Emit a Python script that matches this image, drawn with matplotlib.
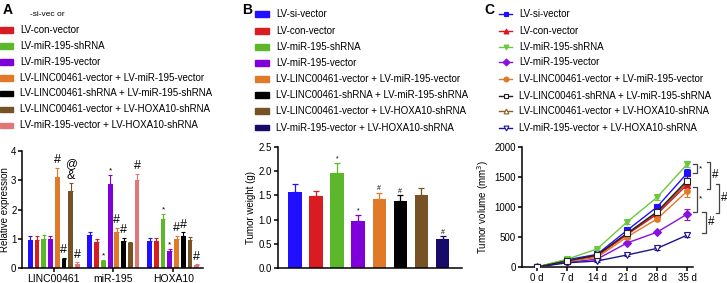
import numpy as np
import matplotlib
matplotlib.use("Agg")
import matplotlib.pyplot as plt
from matplotlib.patches import Rectangle
from matplotlib.lines import Line2D

plt.rcParams['font.family'] = ['Liberation Sans', 'DejaVu Sans']
plt.rcParams['font.size'] = 7

W, H = 727, 283

# ---- data ----
colors = ["#2010ff", "#d81c22", "#5cb82a", "#8000dc", "#e07a28", "#000000", "#765224", "#e07878"]
colors_b = colors[:7] + ["#160a6a"]

labels_a = ["-si-vec or", "LV-con-vector", "LV-miR-195-shRNA", "LV-miR-195-vector",
            "LV-LINC00461-vector + LV-miR-195-vector", "LV-LINC00461-shRNA + LV-miR-195-shRNA",
            "LV-LINC00461-vector + LV-HOXA10-shRNA", "LV-miR-195-vector + LV-HOXA10-shRNA"]
labels_b = ["LV-si-vector"] + labels_a[1:]

genes = ["LINC00461", "miR-195", "HOXA10"]
expr = [[0.97, 0.97, 1.00, 0.99, 3.10, 0.30, 2.62, 0.15],
        [1.13, 0.88, 0.23, 2.88, 1.22, 0.93, 0.84, 3.02],
        [0.91, 0.92, 1.68, 0.58, 1.00, 1.10, 0.97, 0.10]]
expr_err = [[0.11, 0.11, 0.13, 0.09, 0.33, 0.05, 0.27, 0.04],
            [0.11, 0.11, 0.05, 0.31, 0.15, 0.10, 0.06, 0.21],
            [0.11, 0.10, 0.16, 0.07, 0.11, 0.13, 0.08, 0.02]]
expr_marks = [["", "", "", "", "#", "#", "&", "#"],
              ["", "", "*", "*", "#", "#", "", "#"],
              ["", "", "*", "*", "#", "#", "", "#"]]

weight = [1.57, 1.48, 1.96, 0.97, 1.42, 1.38, 1.50, 0.60]
weight_err = [0.16, 0.12, 0.21, 0.12, 0.13, 0.12, 0.16, 0.06]
weight_marks = ["", "", "*", "*", "#", "#", "", "#"]

days = [0, 7, 14, 21, 28, 35]
day_labels = ["0 d", "7 d", "14 d", "21 d", "28 d", "35 d"]
volume = [[0, 120, 210, 610, 1000, 1560],
          [0, 100, 180, 540, 880, 1370],
          [0, 130, 300, 750, 1160, 1710],
          [0, 80, 130, 400, 580, 880],
          [0, 90, 160, 500, 800, 1260],
          [0, 100, 200, 560, 920, 1440],
          [0, 100, 190, 550, 900, 1410],
          [0, 70, 100, 200, 310, 530]]
volume_err = [[0, 10, 20, 30, 40, 80],
              [0, 10, 20, 30, 40, 60],
              [0, 10, 20, 30, 40, 40],
              [0, 10, 15, 20, 20, 90],
              [0, 10, 20, 30, 40, 90],
              [0, 10, 20, 30, 40, 50],
              [0, 10, 20, 30, 40, 50],
              [0, 5, 10, 15, 20, 30]]
markers_c = ["s", "^", "v", "D", "o", "s", "^", "v"]
filled_c = [True, True, True, True, True, False, False, False]
colors_c = ["#2010ff", "#e0141c", "#6cc83c", "#8a10e0", "#e07a28", "#222222", "#8a6020", "#1c1490"]


def fx(px):
    return px / W


def fy(py):
    return 1 - py / H


def add_axes(l, r, t, b):
    return fig.add_axes([fx(l), fy(b), fx(r) - fx(l), fy(t) - fy(b)])


def style(ax):
    for s in ["top", "right"]:
        ax.spines[s].set_visible(False)
    ax.spines["left"].set_linewidth(1.1)
    ax.spines["bottom"].set_linewidth(1.1)
    ax.tick_params(direction="out", length=3, width=1.1, pad=1.5)


fig = plt.figure(figsize=(W / 100, H / 100), dpi=100)

# ---- panel labels ----
for lab, x in [("A", 3), ("B", 242), ("C", 484)]:
    fig.text(fx(x), fy(10), lab, fontsize=10, fontweight="bold", va="center", ha="left")

# ---- legends ----
ys_a = [14, 30, 46, 62, 78, 93.5, 109.5, 125.5]
ys_b = [14, 31, 47, 63, 79.3, 95, 111, 127.7]
ys_c = [14, 30.7, 46.7, 62.3, 79.3, 95.7, 111, 127.7]
for i in range(8):
    if i == 0:
        fig.text(fx(30), fy(ys_a[i]), labels_a[i], fontsize=6, va="center")
    else:
        fig.patches.append(Rectangle((fx(0), fy(ys_a[i] + 2.8)), fx(12.5), 5.6 / H,
                                     transform=fig.transFigure, color=colors[i]))
        fig.text(fx(20), fy(ys_a[i]), labels_a[i], va="center")
    fig.patches.append(Rectangle((fx(255), fy(ys_b[i] + 2.8)), fx(13.5), 5.6 / H,
                                 transform=fig.transFigure, color=colors_b[i]))
    fig.text(fx(276), fy(ys_b[i]), labels_b[i], va="center")
    fig.lines.append(Line2D([fx(499), fx(512)], [fy(ys_c[i])] * 2, transform=fig.transFigure,
                            color=colors_c[i], lw=1))
    fig.lines.append(Line2D([fx(505.5)], [fy(ys_c[i])], transform=fig.transFigure,
                            marker=markers_c[i], ms=3.5, color=colors_c[i],
                            mfc=colors_c[i] if filled_c[i] else "white", mew=0.8))
    fig.text(fx(519), fy(ys_c[i]), labels_b[i], va="center")

# ---- panel A ----
axA = add_axes(22, 203, 151, 268)
style(axA)
step, bw = 0.113, 0.08
for g in range(3):
    for i in range(8):
        x = g + (i - 3.5) * step
        axA.bar(x, expr[g][i], width=bw, color=colors[i], edgecolor="none")
        axA.errorbar(x, expr[g][i], yerr=[[0], [expr_err[g][i]]], color=colors[i],
                     capsize=1.5, elinewidth=0.8, capthick=0.8, fmt="none")
        m = expr_marks[g][i]
        if m:
            top = expr[g][i] + expr_err[g][i]
            fs = 6 if m == "*" else 9
            off = 0.02 if m == "*" else 0.05
            axA.text(x, top + off, m, ha="center", va="bottom", fontsize=fs)
axA.text(0 + 2.5 * step, expr[0][6] + expr_err[0][6] + 0.47, "@", ha="center", va="bottom", fontsize=8.5)
axA.set_xlim(-0.533, 2.5)
axA.set_ylim(0, 4)
axA.set_yticks([0, 1, 2, 3, 4])
axA.set_xticks(range(3))
axA.set_xticklabels(genes, fontsize=7.5)
axA.tick_params(axis="y", labelsize=7, pad=1)
axA.set_ylabel("Relative expression", fontsize=7, labelpad=1)

# ---- panel B ----
axB = add_axes(278, 462, 147, 268)
style(axB)
xb = np.arange(8)
axB.bar(xb, weight, width=0.64, color=colors_b, edgecolor="none")
for i in range(8):
    axB.errorbar(xb[i], weight[i], yerr=[[0], [weight_err[i]]], color=colors_b[i],
                 capsize=2.5, elinewidth=0.9, capthick=0.9, fmt="none")
    if weight_marks[i]:
        axB.text(xb[i], weight[i] + weight_err[i] + 0.01, weight_marks[i], ha="center",
                 va="bottom", fontsize=5)
axB.set_xlim(-0.8, 7.92)
axB.set_ylim(0, 2.5)
axB.set_yticks([0, 0.5, 1.0, 1.5, 2.0, 2.5])
axB.set_yticklabels(["0.0", "0.5", "1.0", "1.5", "2.0", "2.5"])
axB.set_xticks([])
axB.set_ylabel("Tumor weight (g)", labelpad=2)

# ---- panel C ----
axC = add_axes(522, 693, 147, 267)
style(axC)
for i in range(8):
    axC.errorbar(days, volume[i], yerr=volume_err[i], color=colors_c[i], marker=markers_c[i],
                 ms=4, mfc=colors_c[i] if filled_c[i] else "white", mew=0.8, lw=1,
                 capsize=2, elinewidth=0.8, zorder=3 + i % 3)
axC.set_xlim(-3.5, 36.4)
axC.set_ylim(0, 2000)
axC.set_xticks(days)
axC.set_xticklabels(day_labels)
axC.set_yticks([0, 500, 1000, 1500, 2000])
axC.set_ylabel("Tumor volume (mm$^3$)", labelpad=2)

# significance brackets (x in data units beyond the axis)
brackets = [(37.3, 1710, 1560, "*"), (40.4, 1755, 1300, "#"), (37.3, 1338, 920, "*"),
            (42.5, 1380, 905, "#"), (39.4, 920, 565, "#")]
for x, y1, y2, lab in brackets:
    axC.plot([x - 0.8, x, x, x - 0.8], [y1, y1, y2, y2], color="#444444", lw=0.9,
             clip_on=False)
    axC.text(x + 0.5, (y1 + y2) / 2, lab, ha="left", va="center",
             fontsize=6 if lab == "*" else 8.5, clip_on=False)

fig.savefig("out.png", dpi=100)
